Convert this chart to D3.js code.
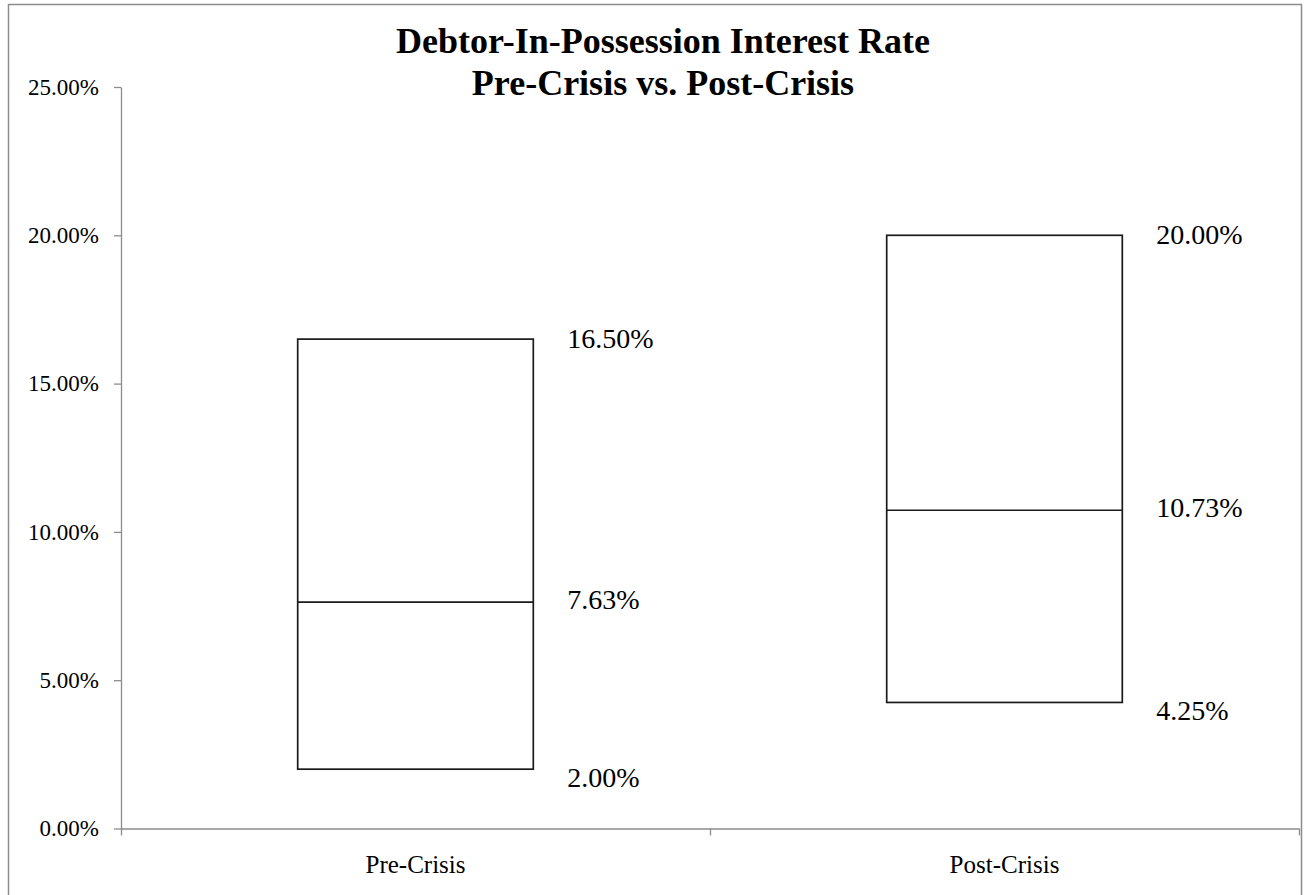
<!DOCTYPE html>
<html>
<head>
<meta charset="utf-8">
<script src="https://cdn.jsdelivr.net/npm/d3@7"></script>
<style>
  body { margin: 0; background: #fff; }
  svg { display: block; }
  svg text { font-family: "Liberation Serif", "DejaVu Serif", serif; }
</style>
</head>
<body>
<div id="chart"></div>
<script>
// data
const categories = ["Pre-Crisis", "Post-Crisis"];
const lowValues = [2.00, 4.25];
const midValues = [7.63, 10.73];
const highValues = [16.50, 20.00];
const yTicks = [0, 5, 10, 15, 20, 25];
const titleLines = ["Debtor-In-Possession Interest Rate", "Pre-Crisis vs. Post-Crisis"];

const w = 1304;
const h = 895;
const plotLeft = 121, plotRight = 1299, plotTop = 87, plotBottom = 828.5;
const serif = "Liberation Serif";

const svg = d3.select("#chart")
  .append("svg")
  .attr("width", w)
  .attr("height", h)
  .attr("font-family", serif);

// outer frame
svg.append("rect")
  .attr("x", 8.5)
  .attr("y", 4.5)
  .attr("width", 1293)
  .attr("height", 900)
  .attr("fill", "none")
  .attr("stroke", "#8c8c8c")
  .attr("stroke-width", 1.5);

const xScale = d3.scaleBand()
  .domain(categories)
  .range([plotLeft, plotRight])
  .paddingInner(0.6)
  .paddingOuter(0.3);

const yScale = d3.scaleLinear()
  .domain([0, 25])
  .range([plotBottom, plotTop]);

const fmt = d => d3.format(".2f")(d) + "%";

//-------------axes------------------------
const yAxis = d3.axisLeft(yScale)
  .tickValues(yTicks)
  .tickFormat(fmt)
  .tickSize(7)
  .tickSizeOuter(0)
  .tickPadding(15);

const gy = svg.append("g")
  .attr("transform", "translate(" + plotLeft + ",0)")
  .call(yAxis)
  .attr("font-family", serif);
gy.selectAll("line, path").attr("stroke", "#8c8c8c").attr("stroke-width", 1.3);
gy.selectAll("text")
  .attr("font-size", 23)
  .attr("fill", "#000");

// category boundaries as x ticks (Excel style)
const xLin = d3.scaleLinear().domain([0, categories.length]).range([plotLeft, plotRight]);
const xAxis = d3.axisBottom(xLin)
  .tickValues(d3.range(categories.length + 1))
  .tickFormat("")
  .tickSize(7)
  .tickSizeOuter(0);
const gx = svg.append("g")
  .attr("transform", "translate(0," + plotBottom + ")")
  .call(xAxis);
gx.selectAll("line, path").attr("stroke", "#8c8c8c").attr("stroke-width", 1.3);

svg.append("g")
  .selectAll("text")
  .data(categories)
  .enter()
  .append("text")
  .attr("x", d => xScale(d) + xScale.bandwidth() / 2)
  .attr("y", 873)
  .attr("text-anchor", "middle")
  .attr("font-family", serif)
  .attr("font-size", 25)
  .text(d => d);

//-------------boxes------------------------
const rows = categories.map((c, i) => ({
  cat: c, low: lowValues[i], mid: midValues[i], high: highValues[i]
}));

const boxes = svg.append("g");
boxes.selectAll("rect")
  .data(rows)
  .enter()
  .append("rect")
  .attr("x", d => xScale(d.cat))
  .attr("y", d => yScale(d.high))
  .attr("width", xScale.bandwidth())
  .attr("height", d => yScale(d.low) - yScale(d.high))
  .attr("fill", "#fff")
  .attr("stroke", "#1a1a1a")
  .attr("stroke-width", 1.7);

boxes.selectAll("line")
  .data(rows)
  .enter()
  .append("line")
  .attr("x1", d => xScale(d.cat))
  .attr("x2", d => xScale(d.cat) + xScale.bandwidth())
  .attr("y1", d => yScale(d.mid))
  .attr("y2", d => yScale(d.mid))
  .attr("stroke", "#1a1a1a")
  .attr("stroke-width", 1.7);

//-------------labels------------------------
const roles = [["high", -1], ["mid", -3], ["low", 8]];
const labels = svg.append("g");
roles.forEach(([key, nudge]) => {
  labels.selectAll("text." + key)
    .data(rows)
    .enter()
    .append("text")
    .attr("class", key)
    .attr("x", d => xScale(d.cat) + xScale.bandwidth() + 34)
    .attr("y", d => yScale(d[key]) + nudge)
    .attr("dy", "0.35em")
    .attr("font-family", serif)
    .attr("font-size", 28)
    .text(d => fmt(d[key]));
});

//-------------title------------------------
svg.append("g")
  .selectAll("text")
  .data(titleLines)
  .enter()
  .append("text")
  .attr("x", 663)
  .attr("y", (d, i) => 53 + i * 42)
  .attr("text-anchor", "middle")
  .attr("font-family", serif)
  .attr("font-size", 36)
  .attr("font-weight", "bold")
  .text(d => d);
</script>
</body>
</html>
